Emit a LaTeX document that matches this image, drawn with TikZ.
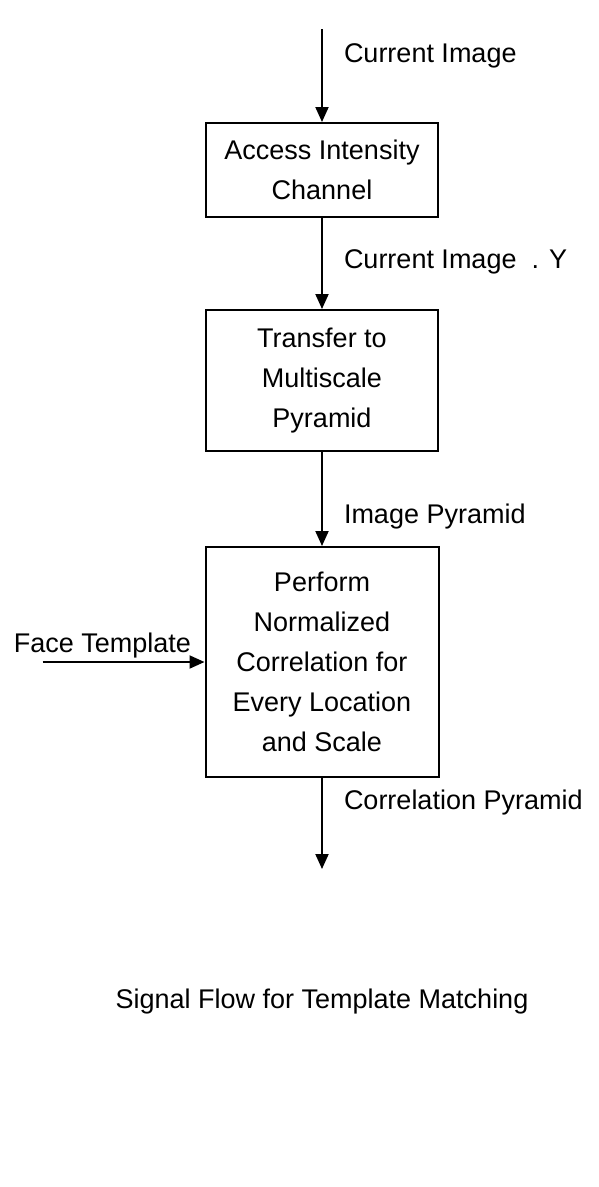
\documentclass[tikz,border=0pt]{standalone}
\usepackage{fontspec}
\setmainfont{Liberation Sans}
\usetikzlibrary{arrows.meta, positioning}
\tikzstyle{block} = [draw, rectangle, line width=2pt, minimum width=232pt, align=center]
\tikzstyle{input} = [coordinate]
\tikzstyle{output} = [coordinate]
\tikzstyle{sig} = [inner xsep=21pt]

\begin{document}
\begin{tikzpicture}[node distance=92pt,auto,>={Triangle[length=15pt,width=13pt]},line width=2pt, every node/.style={font=\fontsize{27}{40}\selectfont}]
\useasboundingbox (0,0) rectangle (598pt,-1187pt);
\node [block, minimum height=94pt] (access) at (322pt,-170pt) {Access Intensity\\Channel};
\node [input, above=93pt of access] (input) {};
\node [block, minimum height=141pt, below=91pt of access] (pyr) {Transfer to\\Multiscale\\Pyramid};
\node [block, minimum height=230pt, minimum width=233pt, below=94pt of pyr] (perf) {Perform\\Normalized\\Correlation for\\Every Location\\and Scale};
\node [output, below=91pt of perf] (output) {};
\node [input, left=162pt of perf] (face) {};
\node (caption) at (322pt,-1002pt) {Signal Flow for Template Matching};

\draw [->] (input) -- node[sig, pos=0.29] {Current Image} (access);
\draw [->] (access) -- node[sig, pos=0.48] {Current Image~~. Y} (pyr);
\draw [->] (pyr) -- node[sig, pos=0.69] {Image Pyramid} (perf);
\draw [->] (perf) -- node[sig, pos=0.27] {Correlation Pyramid} (output);
\draw [->] (face) -- node[pos=0.37] {Face Template} (perf);
\end{tikzpicture}
\end{document}
